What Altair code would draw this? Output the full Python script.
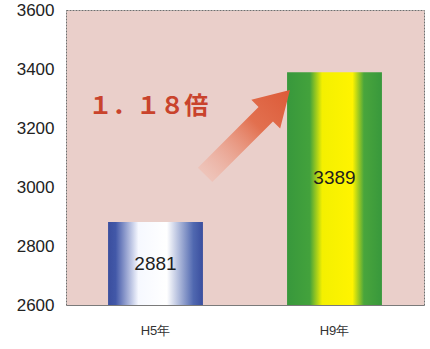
import altair as alt
import pandas as pd

# Visitor totals for the two survey years
periods = ["H5年", "H9年"]
counts = [2881, 3389]
# vertical placement (in axis units) of the value printed inside each bar
label_y = [2740, 3030]

# growth annotation: arrow centre and ratio caption, in axis units
# (x runs 0..2 across the plot, one unit per category)
arrow_x = [1.014]
arrow_y = [3185]
caption_x = [0.125]
caption_y = [3247]

y_min, y_max = 2600, 3600
y_ticks = [2600, 2800, 3000, 3200, 3400, 3600]

ratio = round(counts[1] / counts[0], 2)
full = str.maketrans("0123456789.", "０１２３４５６７８９．")
caption = f"{ratio:.2f}".translate(full) + "倍"

bars = pd.DataFrame({"period": periods, "count": counts, "label_y": label_y})
arrow = pd.DataFrame({"x": arrow_x, "y": arrow_y})
note = pd.DataFrame({"x": caption_x, "y": caption_y, "text": [caption]})

blue_fill = {
    "gradient": "linear", "x1": 0, "y1": 0, "x2": 1, "y2": 0,
    "stops": [
        {"offset": 0.0, "color": "#3a4e9e"},
        {"offset": 0.08, "color": "#4258a8"},
        {"offset": 0.32, "color": "#f6f8ff"},
        {"offset": 0.62, "color": "#ffffff"},
        {"offset": 0.9, "color": "#5068b0"},
        {"offset": 1.0, "color": "#3a4e9e"},
    ],
}
green_fill = {
    "gradient": "linear", "x1": 0, "y1": 0, "x2": 1, "y2": 0,
    "stops": [
        {"offset": 0.0, "color": "#38983c"},
        {"offset": 0.24, "color": "#43a23c"},
        {"offset": 0.37, "color": "#f4f000"},
        {"offset": 0.69, "color": "#fff400"},
        {"offset": 0.81, "color": "#49a53c"},
        {"offset": 1.0, "color": "#38983c"},
    ],
}
arrow_fill = {
    "gradient": "linear", "x1": 0, "y1": 0, "x2": 0, "y2": 1,
    "stops": [
        {"offset": 0.0, "color": "#dc5a38"},
        {"offset": 0.4, "color": "#e2704f"},
        {"offset": 1.0, "color": "rgba(242,182,166,0.45)"},
    ],
}

# upward arrow in the unit square, rotated by the mark's angle
arrow_shape = ("M0,-1 L0.34,-0.43 L0.17,-0.43 L0.17,1 "
               "L-0.17,1 L-0.17,-0.43 L-0.34,-0.43 Z")

sans = "Liberation Sans Narrow, Arial Narrow, Liberation Sans, sans-serif"

x_band = alt.X(
    "period:N", sort=periods, title=None,
    scale=alt.Scale(paddingInner=0.47, paddingOuter=0.235),
    axis=alt.Axis(labelAngle=0, labelFont=sans, labelFontSize=13,
                  labelColor="#333333", labelPadding=19, ticks=False,
                  domain=True, domainColor="#7a7a7a", domainWidth=1.2,
                  orient="bottom"),
)
y_scale = alt.Scale(domain=[y_min, y_max], nice=False, zero=False)
y_val = alt.Y(
    "count:Q", title=None, scale=y_scale,
    axis=alt.Axis(values=y_ticks, format="d", labelFont=sans,
                  labelFontSize=17, labelColor="#222222", labelPadding=12,
                  ticks=False, domain=False, grid=False),
)

base = alt.Chart(bars)
bar_layer = base.mark_bar().encode(
    x=x_band,
    y=y_val,
    y2=alt.datum(y_min),
    fill=alt.condition(alt.datum.period == periods[0],
                       alt.value(blue_fill), alt.value(green_fill)),
)

values = base.mark_text(font=sans, fontSize=19, color="#1e1e1e",
                        baseline="middle").encode(
    x=alt.X("period:N", sort=periods),
    y=alt.Y("label_y:Q", scale=y_scale),
    text=alt.Text("count:Q", format="d"),
)

bar_panel = alt.layer(bar_layer, values)

x_free = alt.X("x:Q", scale=alt.Scale(domain=[0, 2], nice=False), axis=None)
y_free = alt.Y("y:Q", scale=y_scale)

growth_arrow = alt.Chart(arrow).mark_point(
    shape=arrow_shape, size=14400, angle=45, filled=True,
    fill=arrow_fill, strokeWidth=0, opacity=1,
).encode(x=x_free, y=y_free)

growth_text = alt.Chart(note).mark_text(
    font="Noto Sans CJK JP", fontSize=24, fontWeight="bold",
    color="#c9432c", align="left", baseline="alphabetic",
).encode(x=x_free, y=y_free, text="text:N")

annotation = alt.layer(growth_arrow, growth_text)

chart = (
    alt.layer(bar_panel, annotation)
    .resolve_scale(x="independent")
    .properties(
        width=358, height=295,
        autosize=alt.AutoSizeParams(type="none"),
        padding={"left": 66, "top": 10, "right": 6, "bottom": 44},
        background="#ffffff",
    )
    .configure_view(fill="#eacfca", stroke="#6e6e6e", strokeWidth=1,
                    strokeDash=[2, 1])
)

chart.save("out.html", embed_options={"renderer": "svg", "actions": False})
